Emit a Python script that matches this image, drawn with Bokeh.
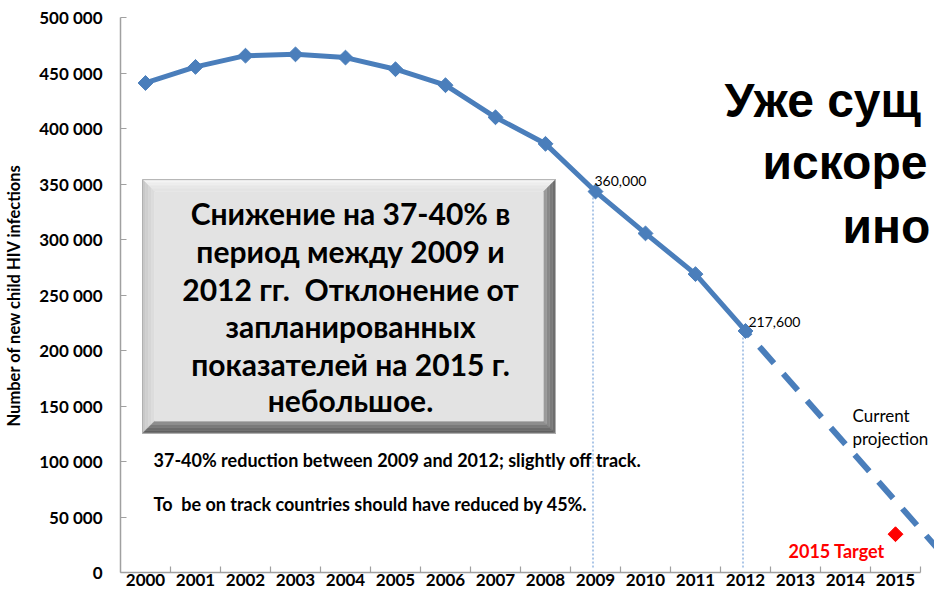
from bokeh.plotting import figure
from bokeh.models import Range1d, FixedTicker
from bokeh.core.properties import value
from bokeh.embed import file_html
from bokeh.resources import INLINE
import math

# ---------------- data ----------------
years = ["2000", "2001", "2002", "2003", "2004", "2005", "2006", "2007",
         "2008", "2009", "2010", "2011", "2012", "2013", "2014", "2015"]
infections = [441000, 455500, 465600, 466800, 463900, 453400, 439000, 410100,
              386200, 343200, 305500, 268800, 217600]
projection_years = [2012, 2016]
projection_values = [217600, 13500]
target_year = [2015]
target_value = [34500]
marked_years = [2009, 2012]
y_ticks = [0, 50000, 100000, 150000, 200000, 250000, 300000, 350000, 400000, 450000, 500000]
y_tick_labels = ["0", "50 000", "100 000", "150 000", "200 000", "250 000", "300 000",
                 "350 000", "400 000", "450 000", "500 000"]

BLUE = "#4a7ebb"
FONT_NAME = "Lato"
FONT = value(FONT_NAME)

idx = [i for i in range(len(infections))]
proj_idx = [y - 2000 for y in projection_years]
target_idx = [y - 2000 for y in target_year]
marked_idx = [y - 2000 for y in marked_years]
marked_vals = [infections[i] for i in marked_idx]

W, H = 934, 593
LEFT, TOP, BOTTOM = 120, 17, 572
p = figure(width=W, height=H, x_range=Range1d(-0.5, (W - LEFT) / 50.0 - 0.5),
           y_range=Range1d(0, 500000),
           min_border_left=LEFT, min_border_right=0, min_border_top=TOP,
           min_border_bottom=H - BOTTOM,
           output_backend="svg", toolbar_location=None)
p.outline_line_color = None
p.grid.visible = False
p.background_fill_color = "white"

# helpers: canvas pixel -> data coordinates (for annotation placement only)
def px(xp):
    return (xp - LEFT) / 50.0 - 0.5

def py(yp):
    return (BOTTOM - yp) * 500000.0 / (BOTTOM - TOP)

# reference pixel rows were measured with the axis at y=575; map them onto this frame
def ry(yp):
    return py(TOP + (yp - 17) * (BOTTOM - TOP) / (575 - 17))

# ---------------- axes ----------------
xa = p.xaxis[0]
xa.ticker = FixedTicker(ticks=list(range(16)), minor_ticks=[i + 0.5 for i in range(16)])
xa.major_label_overrides = {i: years[i] for i in range(16)}
xa.bounds = (-0.5, 15.5)
xa.major_tick_in = 0
xa.major_tick_out = 0
xa.minor_tick_in = 6
xa.minor_tick_out = 0
xa.axis_line_color = "#a0a0a0"
xa.axis_line_width = 1.5
xa.minor_tick_line_color = "#a0a0a0"
xa.minor_tick_line_width = 1.2
xa.major_label_text_font = FONT_NAME
xa.major_label_text_font_style = "bold"
xa.major_label_text_font_size = "17px"
xa.major_label_text_color = "black"
xa.major_label_standoff = 1

ya = p.yaxis[0]
ya.ticker = FixedTicker(ticks=y_ticks)
ya.major_label_overrides = {t: l for t, l in zip(y_ticks, y_tick_labels)}
ya.major_tick_in = 6
ya.major_tick_out = 0
ya.minor_tick_in = 0
ya.minor_tick_out = 0
ya.axis_line_color = "#a0a0a0"
ya.axis_line_width = 1.5
ya.major_tick_line_color = "#a0a0a0"
ya.major_tick_line_width = 1.2
ya.major_label_text_font = FONT_NAME
ya.major_label_text_font_style = "bold"
ya.major_label_text_font_size = "17px"
ya.major_label_text_color = "black"
ya.major_label_standoff = 18
ya.axis_label = "Number of new child HIV infections"
ya.axis_label_text_font = FONT_NAME
ya.axis_label_text_font_style = "bold"
ya.axis_label_text_font_size = "16.5px"
ya.axis_label_text_color = "black"
ya.axis_label_standoff = 12

# ---------------- bevelled grey box ----------------
L, R, T, B = 142, 555, 180, 435
bands = 4
bw = 3
top_cols = ["#f4f4f4", "#eeeeee", "#e8e8e8", "#e4e4e4"]
left_cols = ["#c8c8c8", "#cfcfcf", "#d6d6d6", "#dcdcdc"]
right_cols = ["#6e6e6e", "#7a7a7a", "#888888", "#9a9a9a"]
bot_cols = ["#606060", "#6c6c6c", "#7a7a7a", "#8e8e8e"]
xs, ys, cs = [], [], []
for i in range(bands):
    o, n = i * bw, (i + 1) * bw
    xs.append([px(L + o), px(R - o), px(R - n), px(L + n)])
    ys.append([ry(T + o), ry(T + o), ry(T + n), ry(T + n)])
    cs.append(top_cols[i])
    xs.append([px(L + o), px(L + n), px(L + n), px(L + o)])
    ys.append([ry(T + o), ry(T + n), ry(B - n), ry(B - o)])
    cs.append(left_cols[i])
    xs.append([px(R - o), px(R - o), px(R - n), px(R - n)])
    ys.append([ry(T + o), ry(B - o), ry(B - n), ry(T + n)])
    cs.append(right_cols[i])
    xs.append([px(L + o), px(R - o), px(R - n), px(L + n)])
    ys.append([ry(B - o), ry(B - o), ry(B - n), ry(B - n)])
    cs.append(bot_cols[i])
p.patches(xs, ys, fill_color=cs, line_color=cs, line_width=0.5)
inn = bands * bw
p.quad(left=[px(L + inn)], right=[px(R - inn)], top=[ry(T + inn)], bottom=[ry(B - inn)],
       fill_color="#e3e3e3", line_color=None)
p.quad(left=[px(L)], right=[px(R)], top=[ry(T)], bottom=[ry(B)],
       fill_color=None, line_color="#b0b0b0", line_width=1)

box_lines = ["Снижение на 37-40% в", "период между 2009 и", "2012 гг.\u00a0 Отклонение от",
             "запланированных", "показателей на 2015 г.", "небольшое."]
box_y = [214, 252, 290, 327, 365, 402]
p.text(x=[px(350)] * len(box_lines), y=[ry(v) for v in box_y], text=box_lines,
       text_font=FONT, text_font_style="bold", text_font_size="30px",
       text_align="center", text_baseline="middle", text_color="black")

# ---------------- dotted guide lines ----------------
p.segment(x0=[i - 0.05 for i in marked_idx], y0=[ry(570)] * 2,
          x1=[i - 0.05 for i in marked_idx], y1=marked_vals,
          line_color="#5b8fd0", line_width=1, line_dash="2 2")

# ---------------- series ----------------
p.line(proj_idx, projection_values, line_color=BLUE, line_width=6,
       line_dash="22 14", line_dash_offset=15)
p.line(idx, infections, line_color=BLUE, line_width=5)
p.scatter(idx, infections, marker="square", size=10.5, angle=math.pi / 4,
          fill_color=BLUE, line_color=BLUE)
p.scatter(target_idx, target_value, marker="square", size=10.5, angle=math.pi / 4,
          fill_color="#ff0000", line_color="#ff0000")

# ---------------- annotations ----------------
p.text(x=[px(594), px(748)], y=[ry(181), ry(323)], text=["360,000", "217,600"],
       text_font=FONT, text_font_size="14px", text_align="left", text_baseline="middle",
       text_color="black")
p.text(x=[px(852), px(852)], y=[ry(417), ry(440)], text=["Current", "projection"],
       text_font=FONT, text_font_size="17px", text_align="left", text_baseline="middle",
       text_color="black")
p.text(x=[px(788)], y=[ry(553)], text=["2015 Target"], text_font=FONT, text_font_style="bold",
       text_font_size="18px", text_align="left", text_baseline="middle", text_color="#ff0000")
p.text(x=[px(153), px(153)], y=[ry(462), ry(506)],
       text=["37-40% reduction between 2009 and 2012; slightly off track.",
             "To\u00a0 be on track countries should have reduced by 45%."],
       text_font=FONT, text_font_style="bold", text_font_size="18px", text_align="left",
       text_baseline="middle", text_color="black")

# title fragment at the slide edge
p.text(x=[px(724), px(762), px(842)], y=[ry(100), ry(163), ry(227)],
       text=["Уже сущ", "искоре", "ино"], text_font=value("Liberation Sans"),
       text_font_style="bold", text_font_size="48px", text_align="left",
       text_baseline="alphabetic", text_color="black")

open("out.html", "w").write(file_html(p, INLINE))
